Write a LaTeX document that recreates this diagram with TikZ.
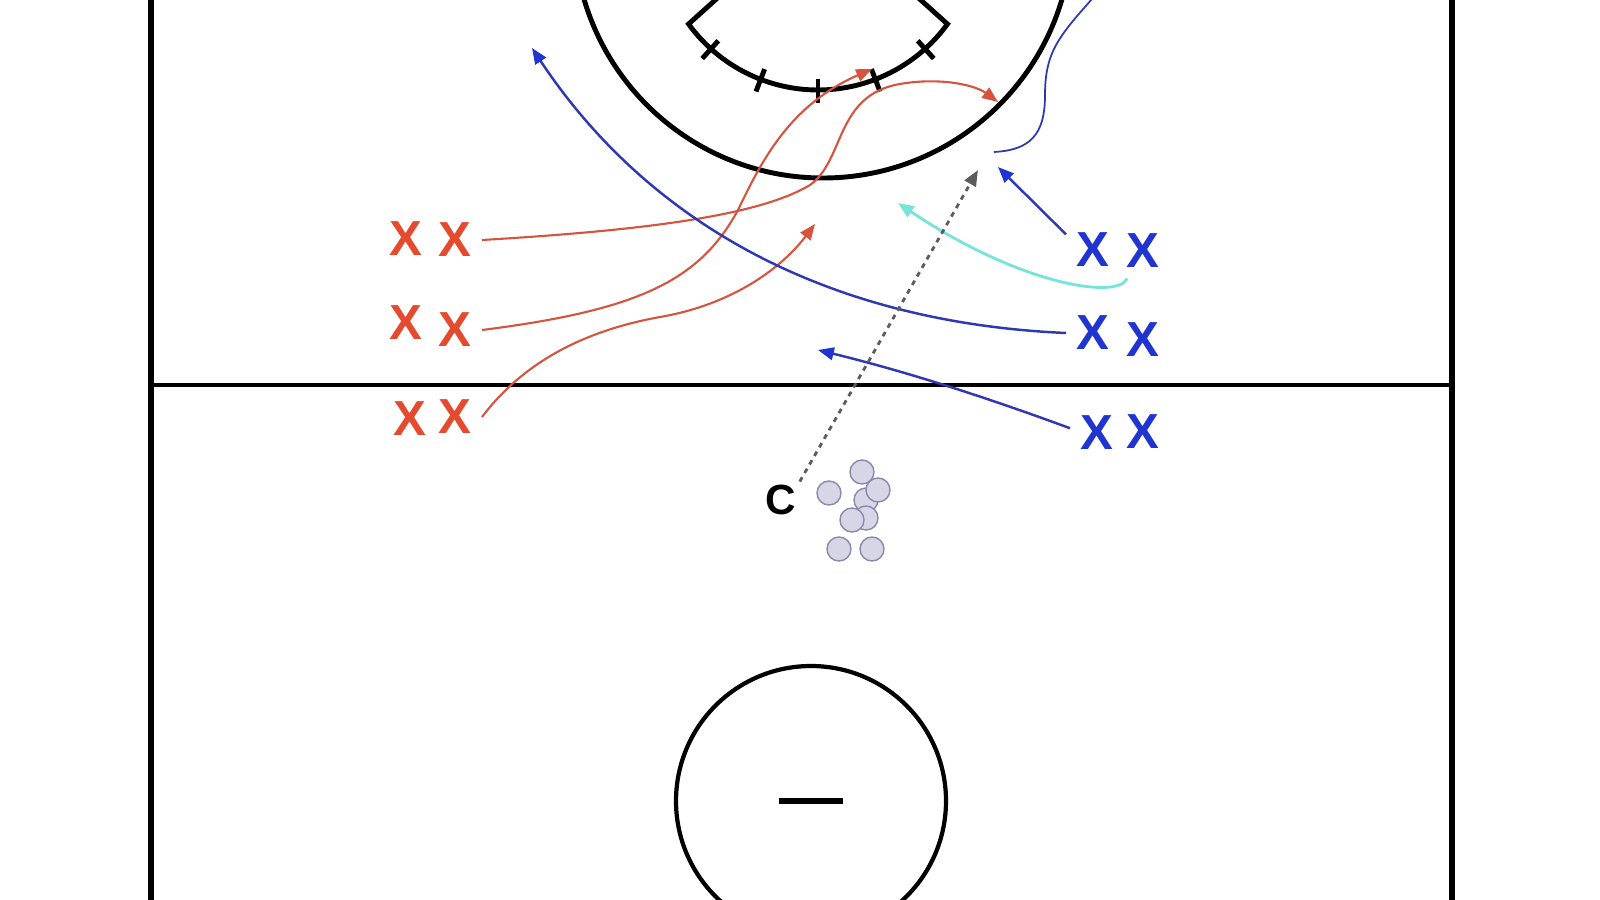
\documentclass[tikz,border=0pt]{standalone}
\usepackage{fontspec}
\setsansfont{Liberation Sans}
\usetikzlibrary{arrows.meta}
\definecolor{teamred}{RGB}{228,74,46}
\definecolor{runred}{RGB}{214,84,62}
\definecolor{teamblue}{RGB}{32,52,208}
\definecolor{runblue}{RGB}{46,56,178}
\definecolor{runcyan}{RGB}{118,228,218}
\definecolor{passgray}{RGB}{92,92,92}
\definecolor{ballfill}{RGB}{214,214,230}
\definecolor{ballline}{RGB}{138,138,172}
\begin{document}
\begin{tikzpicture}[x=0.01cm, y=-0.01cm,
    player/.style={font=\sffamily\bfseries\fontsize{14}{14}\selectfont, inner sep=0pt, outer sep=3pt},
    redx/.style={player, text=teamred},
    bluex/.style={player, text=teamblue},
    ball/.style={circle, draw=ballline, fill=ballfill, line width=0.4pt, minimum size=0.24cm, inner sep=0pt},
    redrun/.style={runred, line width=0.6pt, -{Triangle[length=4.5pt, width=3.6pt]}},
    bluerun/.style={runblue, line width=0.7pt, -{Triangle[length=4.5pt, width=3.6pt, fill=teamblue, color=teamblue]}},
    cyanrun/.style={runcyan, line width=0.8pt, -{Triangle[length=4.5pt, width=3.6pt]}},
    passrun/.style={passgray, line width=0.8pt, dash pattern=on 1.4pt off 1.4pt, -{Triangle[length=4.5pt, width=3.6pt]}}]
    \useasboundingbox (0,0) rectangle (1600,900) ;
    \clip (0,0) rectangle (1600,900) ;
    % field
    \draw [line width=1.5pt] (151,-10) -- (151,910) ;
    \draw [line width=1.5pt] (1452,-10) -- (1452,910) ;
    \draw [line width=1.2pt] (151,385) -- (1452,385) ;
    % crease and goal
    \draw [line width=1.4pt] (823,-71) circle (249) ;
    \draw [line width=1.4pt] (818,-70) ++(144:160) ++(30,-27) -- ++(-30,27)
        arc [start angle=144, end angle=36, radius=160] -- ++(-30,-27) ;
    \draw [line width=1.4pt] (818,-70) ++(48:149) -- ++(48:24) ;
    \draw [line width=1.4pt] (818,-70) ++(69:149) -- ++(69:24) ;
    \draw [line width=1.4pt] (818,-70) ++(90:149) -- ++(90:24) ;
    \draw [line width=1.4pt] (818,-70) ++(111:149) -- ++(111:24) ;
    \draw [line width=1.4pt] (818,-70) ++(132:149) -- ++(132:24) ;
    % lower circle
    \draw [line width=1.2pt] (811,801) circle (135) ;
    \draw [line width=1.8pt] (779,801) -- (843,801) ;
    % players
    \node [redx] (r1a) at (406,239) {X} ;
    \node [redx] (r1b) at (455,240) {X} ;
    \node [redx] (r2a) at (406,323) {X} ;
    \node [redx] (r2b) at (455,330) {X} ;
    \node [redx] (r3a) at (410,419) {X} ;
    \node [redx] (r3b) at (455,417) {X} ;
    \node [bluex] (b1a) at (1093,250) {X} ;
    \node [bluex] (b1b) at (1143,251) {X} ;
    \node [bluex] (b2a) at (1093,333) {X} ;
    \node [bluex] (b2b) at (1143,340) {X} ;
    \node [bluex] (b3a) at (1097,433) {X} ;
    \node [bluex] (b3b) at (1143,432) {X} ;
    \node [font=\sffamily\bfseries\fontsize{12}{12}\selectfont, inner sep=0pt, outer sep=1pt] (coach) at (781,500) {C} ;
    % balls
    \node [ball] (ball1) at (866,500) {} ;
    \node [ball] (ball2) at (862,472) {} ;
    \node [ball] (ball3) at (878,490) {} ;
    \node [ball] (ball4) at (829,493) {} ;
    \node [ball] (ball5) at (866,518) {} ;
    \node [ball] (ball6) at (852,520) {} ;
    \node [ball] (ball7) at (839,549) {} ;
    \node [ball] (ball8) at (872,549) {} ;
    % run ends
    \coordinate (rend1) at (998,102) ;
    \coordinate (rend2) at (872,69) ;
    \coordinate (rend3) at (815,224) ;
    \coordinate (bend1) at (998,167) ;
    \coordinate (bend2) at (532,48) ;
    \coordinate (bend3) at (818,350) ;
    \coordinate (cend) at (898,203) ;
    \coordinate (pend) at (978,170) ;
    \coordinate (wig) at (994,152) ;
    % red runs
    \draw [redrun] (r1b.east) .. controls (650,230) and (760,215) .. (810,185)
        .. controls (845,160) and (835,95) .. (900,84) .. controls (940,77) and (975,85) .. (rend1) ;
    \draw [redrun] (r2b.east) .. controls (640,310) and (700,280) .. (738,210)
        .. controls (762,160) and (790,105) .. (rend2) ;
    \draw [redrun] (r3b.east) .. controls (510,380) and (560,335) .. (660,317)
        .. controls (730,305) and (780,270) .. (rend3) ;
    % blue runs
    \draw [bluerun] (b1a.150) -- (bend1) ;
    \draw [bluerun] (b2a.west) .. controls (815,322) and (642,214) .. (bend2) ;
    \draw [bluerun] (b3a.170) .. controls (980,395) and (900,370) .. (bend3) ;
    \draw [cyanrun] (b1b.240) .. controls (1118,300) and (1020,285) .. (cend) ;
    \draw [runblue, line width=0.5pt] (wig) .. controls (1030,150) and (1045,135) .. (1045,95)
        .. controls (1045,50) and (1060,35) .. (1100,-10) ;
    % pass
    \draw [passrun] (coach.north east) -- (pend) ;
\end{tikzpicture}
\end{document}
